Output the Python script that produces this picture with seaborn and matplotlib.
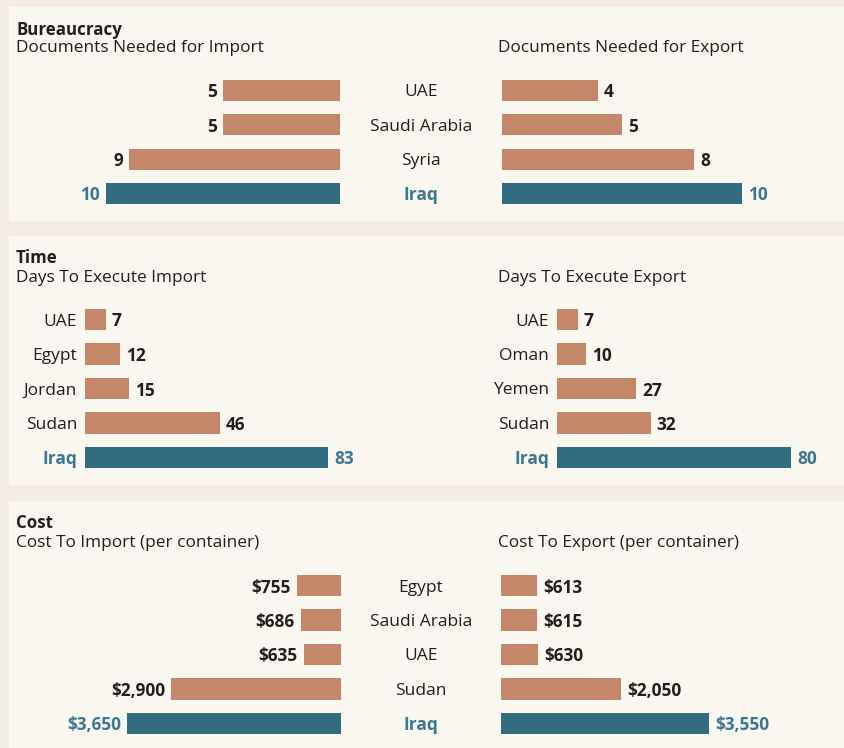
import matplotlib
matplotlib.use("Agg")
import matplotlib.pyplot as plt
from matplotlib.patches import Rectangle
import seaborn as sns

# ---- data -------------------------------------------------------------
docs_import_countries = ["UAE", "Saudi Arabia", "Syria", "Iraq"]
docs_import_values = [5, 5, 9, 10]
docs_export_values = [4, 5, 8, 10]

days_import_countries = ["UAE", "Egypt", "Jordan", "Sudan", "Iraq"]
days_import_values = [7, 12, 15, 46, 83]
days_export_countries = ["UAE", "Oman", "Yemen", "Sudan", "Iraq"]
days_export_values = [7, 10, 27, 32, 80]

cost_countries = ["Egypt", "Saudi Arabia", "UAE", "Sudan", "Iraq"]
cost_import_values = [755, 686, 635, 2900, 3650]
cost_export_values = [613, 615, 630, 2050, 3550]

# ---- style ------------------------------------------------------------
sns.set_theme(style="white")
plt.rcParams["font.family"] = ["Open Sans", "DejaVu Sans"]

W, H = 844, 748
OUTER = "#f5ede3"
PANEL = "#faf6f0"
BAR = "#c4876a"
HILITE = "#336b7f"
HILITE_TXT = "#3a7891"
INK = "#231f20"
PT = 0.72  # points per pixel at 100 dpi

fig = plt.figure(figsize=(W / 100, H / 100), dpi=100, facecolor=OUTER)


def px_axes(x, y, w, h):
    ax = fig.add_axes([x / W, 1 - (y + h) / H, w / W, h / H])
    ax.set_facecolor("none")
    ax.set_zorder(2)
    return ax


def fig_text(x, y, s, **kw):
    fig.text(x / W, 1 - y / H, s, va="baseline", color=INK, zorder=3, **kw)


# panel backgrounds
for (x, y, w, h) in [(9, 7, 835, 214), (9, 236, 835, 249), (9, 501, 835, 247)]:
    fig.patches.append(Rectangle((x / W, 1 - (y + h) / H), w / W, h / H,
                                 transform=fig.transFigure, facecolor=PANEL,
                                 edgecolor="none", zorder=-5))


def bar_panel(ax, countries, values, fmt, side, xmax, label_pad=None,
              label_align="right", show_labels=True):
    colors = [HILITE if c == "Iraq" else BAR for c in countries]
    pos = list(range(len(countries)))
    sns.barplot(x=values, y=pos, hue=pos, palette=colors, orient="h", width=0.61,
                saturation=1, legend=False, ax=ax, linewidth=0)
    n = len(countries)
    ax.set_ylim(n - 0.5, -0.5)
    if side == "left":
        ax.set_xlim(xmax, 0)
    else:
        ax.set_xlim(0, xmax)
    for s in ax.spines.values():
        s.set_visible(False)
    ax.set_xticks([])
    ax.set_xlabel("")
    ax.set_ylabel("")
    if show_labels:
        ax.set_yticks(range(n))
        ax.set_yticklabels(countries)
        ax.tick_params(axis="y", length=0, pad=label_pad, labelsize=12.5,
                       labelcolor=INK)
        for lab, c in zip(ax.get_yticklabels(), countries):
            lab.set_horizontalalignment(label_align)
            if c == "Iraq":
                lab.set_color(HILITE_TXT)
                lab.set_fontweight("bold")
    else:
        ax.set_yticks([])
    for i, (c, v) in enumerate(zip(countries, values)):
        off = -6 if side == "left" else 6
        ax.annotate(fmt(v), xy=(v, i), xytext=(off * PT, 0), textcoords="offset points",
                    ha="right" if side == "left" else "left", va="center_baseline",
                    fontsize=12.4, fontweight="bold",
                    color=HILITE_TXT if c == "Iraq" else INK)


plain = lambda v: f"{v}"
money = lambda v: f"${v:,}"

# ---- Bureaucracy ------------------------------------------------------
fig_text(16, 35, "Bureaucracy", fontsize=12.2, fontweight="bold")
fig_text(16, 52, "Documents Needed for Import", fontsize=12.4)
fig_text(498, 52, "Documents Needed for Export", fontsize=12.4)

s_doc_imp, s_doc_exp = 23.4, 24.0
ax = px_axes(16, 73.3, 324, 137.3)
bar_panel(ax, docs_import_countries, docs_import_values, plain, "left", 324 / s_doc_imp,
          show_labels=False)
ax = px_axes(502, 73.3, 328, 137.3)
bar_panel(ax, docs_import_countries, docs_export_values, plain, "right", 328 / s_doc_exp,
          label_pad=81 * PT, label_align="center")

# ---- Time -------------------------------------------------------------
fig_text(16, 263, "Time", fontsize=12.2, fontweight="bold")
fig_text(16, 282, "Days To Execute Import", fontsize=12.4)
fig_text(498, 282, "Days To Execute Export", fontsize=12.4)

s_days = 2.93
ax = px_axes(85, 302.25, 315, 172.5)
bar_panel(ax, days_import_countries, days_import_values, plain, "right", 315 / s_days,
          label_pad=8 * PT)
ax = px_axes(557, 302.25, 273, 172.5)
bar_panel(ax, days_export_countries, days_export_values, plain, "right", 273 / s_days,
          label_pad=8 * PT)

# ---- Cost -------------------------------------------------------------
fig_text(16, 528, "Cost", fontsize=12.2, fontweight="bold")
fig_text(16, 547, "Cost To Import (per container)", fontsize=12.4)
fig_text(498, 547, "Cost To Export (per container)", fontsize=12.4)

s_cost = 0.0586
ax = px_axes(16, 568.25, 325, 172.5)
bar_panel(ax, cost_countries, cost_import_values, money, "left", 325 / s_cost,
          show_labels=False)
ax = px_axes(501, 568.25, 329, 172.5)
bar_panel(ax, cost_countries, cost_export_values, money, "right", 329 / s_cost,
          label_pad=80 * PT, label_align="center")

fig.savefig("out.png", dpi=100, facecolor=OUTER)
